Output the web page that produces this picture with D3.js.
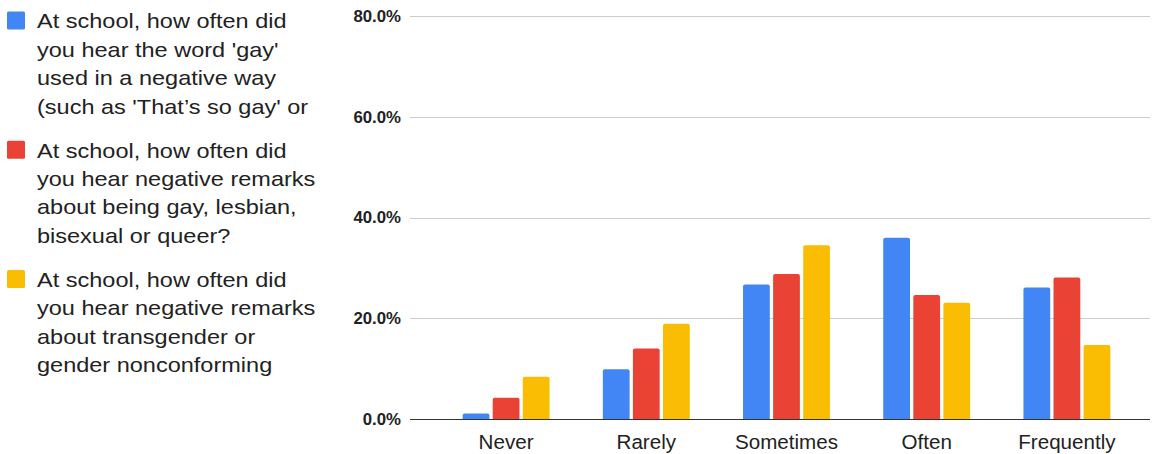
<!DOCTYPE html>
<html>
<head>
<meta charset="utf-8">
<script src="https://cdn.jsdelivr.net/npm/d3@7"></script>
<style>
  body { margin: 0; background: #fff; }
  svg { display: block; }
</style>
</head>
<body>
<div id="chart"></div>
<script>
let categories = ["Never", "Rarely", "Sometimes", "Often", "Frequently"];
let seriesNames = [
    "At school, how often did you hear the word 'gay' used in a negative way (such as 'That\u2019s so gay' or",
    "At school, how often did you hear negative remarks about being gay, lesbian, bisexual or queer?",
    "At school, how often did you hear negative remarks about transgender or gender nonconforming"
];
// legend lines as wrapped in the picture
let legendLines = [
    ["At school, how often did", "you hear the word 'gay'", "used in a negative way", "(such as 'That\u2019s so gay' or"],
    ["At school, how often did", "you hear negative remarks", "about being gay, lesbian,", "bisexual or queer?"],
    ["At school, how often did", "you hear negative remarks", "about transgender or", "gender nonconforming"]
];
let gayWordValues = [0.011, 0.099, 0.267, 0.360, 0.261];
let lgbqRemarkValues = [0.042, 0.140, 0.288, 0.246, 0.281];
let transRemarkValues = [0.084, 0.189, 0.345, 0.231, 0.147];
let colors = ["#4285F4", "#EA4335", "#FBBC04"];
let yTicks = [0, 0.2, 0.4, 0.6, 0.8];

let series = [gayWordValues, lgbqRemarkValues, transRemarkValues];

let width = 1156, height = 454;
let font = "Liberation Sans, Arial, sans-serif";

let svg = d3.select("#chart").append("svg")
    .attr("width", width)
    .attr("height", height);

let y = d3.scaleLinear()
    .domain([0, 0.8])
    .range([419, 16]);

let x0 = d3.scaleBand()
    .domain(categories)
    .range([436, 1137])
    .paddingInner(0.38)
    .paddingOuter(0.19);

let x1 = d3.scaleBand()
    .domain(d3.range(series.length))
    .range([0, x0.bandwidth()])
    .paddingInner(0.11);

// gridlines
svg.selectAll(".grid")
    .data(yTicks.filter(d => d > 0))
    .join("line")
    .attr("class", "grid")
    .attr("x1", 410)
    .attr("x2", 1150)
    .attr("y1", d => Math.round(y(d)) + 0.5)
    .attr("y2", d => Math.round(y(d)) + 0.5)
    .attr("stroke", "#cccccc")
    .attr("stroke-width", 1);

// y tick labels
svg.selectAll(".ylabel")
    .data(yTicks)
    .join("text")
    .attr("class", "ylabel")
    .attr("transform", d => `translate(401,${y(d) + 5.8}) scale(1.05,1)`)
    .attr("text-anchor", "end")
    .attr("font-family", font)
    .attr("font-weight", "bold")
    .attr("font-size", 16)
    .attr("fill", "#222")
    .text(d => d3.format(".1%")(d));

// bars with rounded top corners
function barPath(x, top, w, base) {
    let r = Math.min(2, (base - top) / 2, w / 2);
    return `M${x},${base}V${top + r}Q${x},${top} ${x + r},${top}H${x + w - r}Q${x + w},${top} ${x + w},${top + r}V${base}Z`;
}

let groups = svg.selectAll(".group")
    .data(categories)
    .join("g")
    .attr("class", "group")
    .attr("transform", d => `translate(${x0(d)},0)`);

groups.selectAll("path")
    .data((c, ci) => series.map((s, si) => ({ si: si, v: s[ci] })))
    .join("path")
    .attr("d", d => barPath(x1(d.si), y(d.v), x1.bandwidth(), y(0)))
    .attr("fill", d => colors[d.si]);

// baseline
svg.append("line")
    .attr("x1", 410)
    .attr("x2", 1150)
    .attr("y1", y(0) + 0.5)
    .attr("y2", y(0) + 0.5)
    .attr("stroke", "#333333")
    .attr("stroke-width", 1);

// x labels
svg.selectAll(".xlabel")
    .data(categories)
    .join("text")
    .attr("class", "xlabel")
    .attr("transform", d => `translate(${x0(d) + x0.bandwidth() / 2},449) scale(1.03,1)`)
    .attr("text-anchor", "middle")
    .attr("font-family", font)
    .attr("font-size", 20)
    .attr("fill", "#222")
    .text(d => d);

// legend
let legend = svg.selectAll(".legend")
    .data(seriesNames)
    .join("g")
    .attr("class", "legend")
    .attr("transform", (d, i) => `translate(0,${i * 129.2})`);

legend.append("rect")
    .attr("x", 7)
    .attr("y", 11.5)
    .attr("width", 18)
    .attr("height", 18)
    .attr("rx", 1.5)
    .attr("fill", (d, i) => colors[i]);

legend.append("g")
    .attr("transform", "translate(37,0) scale(1.12,1)")
    .append("text")
    .attr("font-family", font)
    .attr("font-size", 21)
    .attr("fill", "#222")
    .selectAll("tspan")
    .data((d, i) => legendLines[i])
    .join("tspan")
    .attr("x", 0)
    .attr("y", (d, j) => 28.5 + j * 28.35)
    .text(d => d);
</script>
</body>
</html>
